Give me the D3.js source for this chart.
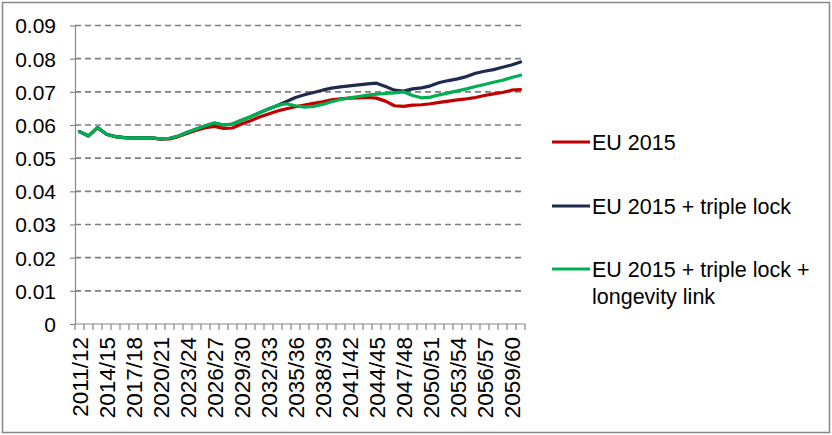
<!DOCTYPE html>
<html>
<head>
<meta charset="utf-8">
<script src="https://cdn.jsdelivr.net/npm/d3@7"></script>
<style>
  body { margin: 0; background: #fff; }
  text { font-family: Arial, "Liberation Sans", sans-serif; fill: #000; }
</style>
</head>
<body>
<svg id="chart" width="832" height="435"></svg>
<script>
const years = [
  "2011/12","2012/13","2013/14","2014/15","2015/16","2016/17","2017/18","2018/19","2019/20","2020/21",
  "2021/22","2022/23","2023/24","2024/25","2025/26","2026/27","2027/28","2028/29","2029/30","2030/31",
  "2031/32","2032/33","2033/34","2034/35","2035/36","2036/37","2037/38","2038/39","2039/40","2040/41",
  "2041/42","2042/43","2043/44","2044/45","2045/46","2046/47","2047/48","2048/49","2049/50","2050/51",
  "2051/52","2052/53","2053/54","2054/55","2055/56","2056/57","2057/58","2058/59","2059/60","2060/61"
];

const eu2015 = [
  0.0580,0.0567,0.0592,0.0572,0.0565,0.0562,0.0561,0.0561,0.0561,0.0557,
  0.0558,0.0565,0.0575,0.0584,0.0592,0.0596,0.0590,0.0591,0.0603,0.0613,
  0.0624,0.0633,0.0642,0.0649,0.0655,0.0660,0.0665,0.0670,0.0676,0.0679,
  0.0681,0.0682,0.0683,0.0681,0.0672,0.0658,0.0656,0.0660,0.0661,0.0664,
  0.0668,0.0672,0.0676,0.0679,0.0683,0.0689,0.0694,0.0698,0.0705,0.0707
];

const tripleLock = [
  0.0580,0.0567,0.0592,0.0572,0.0565,0.0562,0.0561,0.0561,0.0561,0.0558,
  0.0560,0.0567,0.0578,0.0588,0.0598,0.0606,0.0600,0.0603,0.0614,0.0625,
  0.0637,0.0648,0.0659,0.0671,0.0683,0.0691,0.0698,0.0705,0.0711,0.0715,
  0.0718,0.0721,0.0724,0.0726,0.0716,0.0705,0.0702,0.0709,0.0712,0.0718,
  0.0728,0.0734,0.0739,0.0746,0.0756,0.0762,0.0767,0.0774,0.0781,0.0790
];

const longevityLink = [
  0.0580,0.0567,0.0592,0.0572,0.0565,0.0562,0.0561,0.0561,0.0561,0.0558,
  0.0560,0.0567,0.0578,0.0588,0.0598,0.0606,0.0600,0.0603,0.0614,0.0625,
  0.0637,0.0648,0.0659,0.0664,0.0658,0.0654,0.0656,0.0662,0.0670,0.0677,
  0.0682,0.0686,0.0690,0.0693,0.0695,0.0697,0.0700,0.0689,0.0682,0.0684,
  0.0691,0.0697,0.0703,0.0709,0.0716,0.0722,0.0729,0.0735,0.0743,0.0750
];

const yTicks = [0, 0.01, 0.02, 0.03, 0.04, 0.05, 0.06, 0.07, 0.08, 0.09];
const xLabels = years.filter((d, i) => i % 3 === 0 && i < 49);

const seriesNames = [
  ["EU 2015"],
  ["EU 2015 + triple lock"],
  ["EU 2015 + triple lock +", "longevity link"]
];
const seriesColors = ["#C00000", "#1F2A4E", "#00B050"];
const seriesData = [eu2015, tripleLock, longevityLink];

const svg = d3.select("#chart");
const axisGrey = "#868686";

// outer frame
svg.append("rect")
  .attr("x", 2.5).attr("y", 2.5)
  .attr("width", 827).attr("height", 430)
  .attr("fill", "none")
  .attr("stroke", axisGrey)
  .attr("stroke-width", 1.5);

const x = d3.scaleBand()
  .domain(years)
  .range([75, 525])
  .padding(0);

const y = d3.scaleLinear()
  .domain([0, 0.09])
  .range([324, 25.5]);

// gridlines
svg.append("g")
  .selectAll("line")
  .data(yTicks.filter(d => d > 0))
  .enter()
  .append("line")
  .attr("x1", 75).attr("x2", 525)
  .attr("y1", d => y(d)).attr("y2", d => y(d))
  .attr("stroke", "#7f7f7f")
  .attr("stroke-width", 1.7)
  .attr("stroke-dasharray", "6,4");

// Y axis
const yAxis = svg.append("g")
  .attr("transform", "translate(75,0)")
  .call(d3.axisLeft(y)
    .tickValues(yTicks)
    .tickSize(5)
    .tickSizeOuter(0)
    .tickPadding(14)
    .tickFormat(d => d === 0 ? "0" : d3.format(".2f")(d)));
yAxis.selectAll("path, line").attr("stroke", axisGrey).attr("stroke-width", 1.2);
yAxis.selectAll("text").style("font-size", "21px").attr("dy", "0.35em");

// X axis line + ticks between categories
const xAxis = svg.append("g");
xAxis.append("line")
  .attr("x1", 75).attr("x2", 525)
  .attr("y1", y(0)).attr("y2", y(0))
  .attr("stroke", axisGrey).attr("stroke-width", 1.2);
xAxis.selectAll("line.tick")
  .data(years.concat(["end"]))
  .enter()
  .append("line")
  .attr("class", "tick")
  .attr("x1", (d, i) => i < years.length ? x(d) : x.range()[1])
  .attr("x2", (d, i) => i < years.length ? x(d) : x.range()[1])
  .attr("y1", y(0)).attr("y2", y(0) + 6)
  .attr("stroke", axisGrey).attr("stroke-width", 1.2);

// X labels
xAxis.selectAll("text")
  .data(xLabels)
  .enter()
  .append("text")
  .attr("transform", d => "translate(" + (x(d) + x.bandwidth() / 2) + "," + (y(0) + 13) + ") rotate(-90)")
  .attr("text-anchor", "end")
  .attr("dy", "0.36em")
  .style("font-size", "22.5px")
  .text(d => d);

// lines
const line = d3.line()
  .x((d, i) => x(years[i]) + x.bandwidth() / 2)
  .y(d => y(d));

svg.append("g")
  .selectAll("path")
  .data(seriesData)
  .enter()
  .append("path")
  .attr("d", d => line(d))
  .attr("fill", "none")
  .attr("stroke", (d, i) => seriesColors[i])
  .attr("stroke-width", 3.2)
  .attr("stroke-linejoin", "round")
  .attr("stroke-linecap", "round");

// legend
const legendY = [142, 206, 269];
const legend = svg.append("g")
  .selectAll("g")
  .data(seriesNames)
  .enter()
  .append("g")
  .attr("transform", (d, i) => "translate(552," + legendY[i] + ")");

legend.append("line")
  .attr("x1", 0).attr("x2", 38)
  .attr("stroke", (d, i) => seriesColors[i])
  .attr("stroke-width", 3.2);

legend.append("text")
  .attr("x", 40)
  .style("font-size", "21.5px")
  .selectAll("tspan")
  .data(d => d)
  .enter()
  .append("tspan")
  .attr("x", 40)
  .attr("dy", (d, i) => i === 0 ? "0.36em" : "1.27em")
  .text(d => d);
</script>
</body>
</html>
